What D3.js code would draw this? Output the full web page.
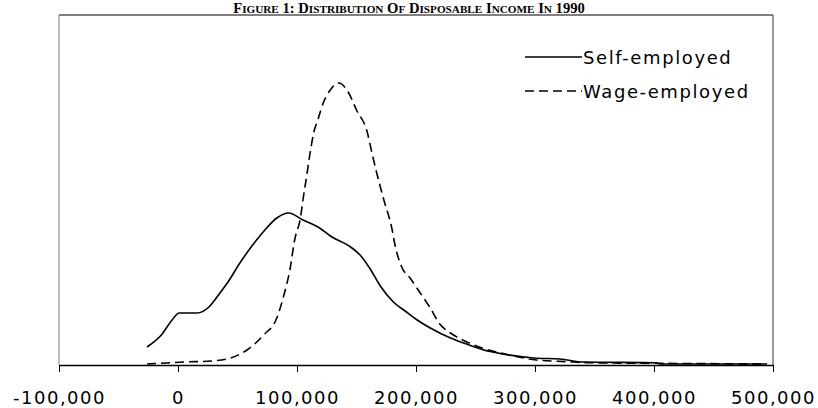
<!DOCTYPE html>
<html>
<head>
<meta charset="utf-8">
<script src="https://cdn.jsdelivr.net/npm/d3@7"></script>
<style>
  html, body { margin: 0; padding: 0; background: #fff; }
  svg { display: block; }
</style>
</head>
<body>
<svg id="chart" width="818" height="408"></svg>
<script>
// Income (thousands) and density (arbitrary units)
const selfIncome = [-26, -14, -5, 1, 16, 26, 34, 42, 52, 66, 73, 83, 93, 105, 119, 128, 145, 153, 161, 170, 181, 192, 201, 212, 229, 240, 257, 273, 299, 321, 341, 402, 405, 495];
const selfDensity = [0.18, 0.30, 0.45, 0.52, 0.52, 0.58, 0.70, 0.83, 1.02, 1.25, 1.35, 1.47, 1.52, 1.45, 1.37, 1.29, 1.18, 1.10, 0.97, 0.79, 0.63, 0.53, 0.45, 0.37, 0.27, 0.22, 0.15, 0.11, 0.07, 0.06, 0.03, 0.023, 0.01, 0.01];

const wageIncome = [-26, -10, 5, 28, 44, 58, 72, 83, 89, 94, 98, 103, 105, 108, 111, 114, 118, 122, 128, 135, 143, 150, 159, 163, 167, 173, 180, 182, 188, 195, 203, 212, 220, 229, 241, 258, 275, 301, 327, 343, 402, 495];
const wageDensity = [0.01, 0.02, 0.03, 0.04, 0.07, 0.15, 0.30, 0.47, 0.70, 0.95, 1.25, 1.48, 1.65, 1.88, 2.12, 2.32, 2.47, 2.62, 2.75, 2.82, 2.73, 2.55, 2.33, 2.12, 1.92, 1.65, 1.35, 1.22, 0.98, 0.87, 0.73, 0.57, 0.41, 0.32, 0.24, 0.16, 0.11, 0.05, 0.033, 0.023, 0.017, 0.01];

const xTicks = [-100, 0, 100, 200, 300, 400, 500];
const seriesNames = ["Self-employed", "Wage-employed"];
const title = "Figure 1: Distribution of Disposable Income in 1990";

const svg = d3.select("#chart");
const L = 59, R = 773, T = 15, B = 365;

const x = d3.scaleLinear().domain([-100, 500]).range([L, R]);
const y = d3.scaleLinear().domain([0, 3.5]).range([B, T]);

// Title in small caps
const tt = svg.append("text")
  .attr("x", 409).attr("y", 13)
  .attr("text-anchor", "middle")
  .attr("font-family", "Liberation Serif, Times New Roman, serif")
  .attr("font-weight", "bold");
title.split(" ").forEach((w, i) => {
  const first = w[0].toUpperCase();
  const rest = w.slice(1).toUpperCase();
  tt.append("tspan").attr("font-size", 14.6).text((i ? " " : "") + first);
  if (rest.length) {
    const isNum = /^[0-9:]+$/.test(rest);
    tt.append("tspan").attr("font-size", isNum ? 14.6 : 11.2).text(rest);
  }
});

// Plot frame
svg.append("line").attr("x1", L).attr("x2", R).attr("y1", T).attr("y2", T)
  .attr("stroke", "#808080").attr("stroke-width", 2);
svg.append("line").attr("x1", L).attr("x2", L).attr("y1", T).attr("y2", B)
  .attr("stroke", "#808080").attr("stroke-width", 1);
svg.append("line").attr("x1", R).attr("x2", R).attr("y1", T).attr("y2", B)
  .attr("stroke", "#333").attr("stroke-width", 1);

// X axis
const fmt = d3.format(",");
const xAxis = d3.axisBottom(x).tickValues(xTicks).tickSize(7).tickSizeOuter(0)
  .tickFormat(d => (d < 0 ? "-" : "") + fmt(Math.abs(d) * 1000));
const gx = svg.append("g").attr("transform", `translate(0,${B})`).call(xAxis);
gx.select(".domain").attr("stroke", "#000").attr("stroke-width", 1.5);
gx.selectAll(".tick line").attr("stroke", "#000");
gx.selectAll(".tick text")
  .attr("y", 39).attr("dy", 0)
  .attr("font-family", "DejaVu Sans, Verdana, sans-serif")
  .attr("font-size", 18)
  .attr("letter-spacing", "1.5px")
  .attr("fill", "#000");

const line = d3.line().x(d => x(d[0])).y(d => y(d[1])).curve(d3.curveMonotoneX);

const selfData = selfIncome.map((v, i) => [v, selfDensity[i]]);
const wageData = wageIncome.map((v, i) => [v, wageDensity[i]]);

svg.append("path").datum(wageData).attr("d", line)
  .attr("fill", "none").attr("stroke", "#000").attr("stroke-width", 1.6)
  .attr("stroke-dasharray", "9,5");
svg.append("path").datum(selfData).attr("d", line)
  .attr("fill", "none").attr("stroke", "#000").attr("stroke-width", 1.6);

// Legend
const leg = [{name: seriesNames[0], y: 57, dash: null}, {name: seriesNames[1], y: 91, dash: "9,5"}];
leg.forEach(l => {
  svg.append("line").attr("x1", 525).attr("x2", 582).attr("y1", l.y).attr("y2", l.y)
    .attr("stroke", "#000").attr("stroke-width", 1.6)
    .attr("stroke-dasharray", l.dash);
  svg.append("text").attr("x", 583).attr("y", l.y + 7)
    .attr("font-family", "DejaVu Sans, Verdana, sans-serif")
    .attr("font-size", 18).attr("letter-spacing", "1.6px")
    .text(l.name);
});
</script>
</body>
</html>
